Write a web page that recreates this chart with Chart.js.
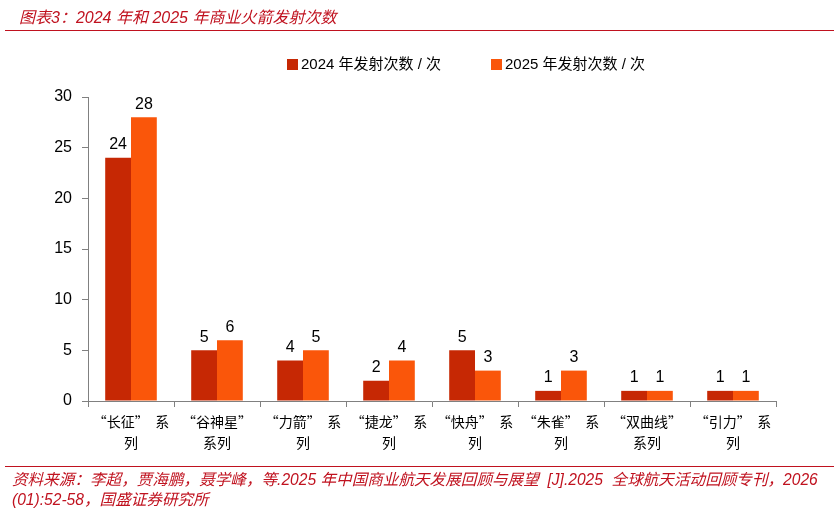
<!DOCTYPE html>
<html>
<head>
<meta charset="utf-8">
<script src="https://cdn.jsdelivr.net/npm/chart.js@4.4.0/dist/chart.umd.min.js"></script>
<style>
  html, body { margin: 0; padding: 0; background: #fff; }
  #wrap { position: relative; width: 839px; height: 515px; overflow: hidden; }
  #chart { position: absolute; left: 0; top: 0; }
  .red { color: #c0121f; font-family: "Liberation Sans", "Noto Sans CJK SC", sans-serif; font-style: italic; }
  #title { position: absolute; left: 19px; top: 4px; font-size: 16px; }
  #topline { position: absolute; left: 5px; top: 30px; width: 829px; height: 1px; background: #c0121f; }
  #botline { position: absolute; left: 5px; top: 466px; width: 829px; height: 1px; background: #c0121f; }
  #source { position: absolute; left: 12px; top: 470px; width: 830px; font-size: 15.6px; line-height: 20px; white-space: nowrap; }
  #legend { position: absolute; top: 52px; left: 287px; font: 15px "Liberation Sans", "Noto Sans CJK SC", sans-serif; color: #000; }
  #legend span.item { position: absolute; white-space: nowrap; }
  #legend i { display: inline-block; width: 11px; height: 11px; margin-right: 3px; vertical-align: -1px; }
</style>
</head>
<body>
<div id="wrap">
  <canvas id="chart" width="839" height="515"></canvas>
  <div id="title" class="red">图表3：2024 年和 2025 年商业火箭发射次数</div>
  <div id="topline"></div>
  <div id="legend"></div>
  <div id="botline"></div>
  <div id="source" class="red">资料来源：李超，贾海鹏，聂学峰，等.2025 年中国商业航天发展回顾与展望&nbsp; [J].2025&nbsp; 全球航天活动回顾专刊，2026<br>(01):52-58，国盛证券研究所</div>
</div>
<script>
// 数据
const categories = [
  ['“长征”  系', '列'],
  ['“谷神星”', '系列'],
  ['“力箭”  系', '列'],
  ['“捷龙”  系', '列'],
  ['“快舟”  系', '列'],
  ['“朱雀”  系', '列'],
  ['“双曲线”', '系列'],
  ['“引力”  系', '列']
];
const seriesNames = ['2024 年发射次数 / 次', '2025 年发射次数 / 次'];
const launches2024 = [24, 5, 4, 2, 5, 1, 1, 1];
const launches2025 = [28, 6, 5, 4, 3, 3, 1, 1];
const yTicks = [0, 5, 10, 15, 20, 25, 30];

const colors = ['#c62804', '#fa560a'];

// 图例
const legendEl = document.getElementById('legend');
const legendX = [0, 204];
seriesNames.forEach((name, i) => {
  const s = document.createElement('span');
  s.className = 'item';
  s.style.left = legendX[i] + 'px';
  s.innerHTML = '<i style="background:' + colors[i] + '"></i>' + name;
  legendEl.appendChild(s);
});

// 柱顶数值
const valueLabels = {
  id: 'valueLabels',
  afterDatasetsDraw(chart) {
    const ctx = chart.ctx;
    ctx.save();
    ctx.font = '16px "Liberation Sans", sans-serif';
    ctx.fillStyle = '#000';
    ctx.textAlign = 'center';
    ctx.textBaseline = 'bottom';
    chart.data.datasets.forEach((ds, di) => {
      chart.getDatasetMeta(di).data.forEach((bar, i) => {
        ctx.fillText(ds.data[i], bar.x, bar.y - 5);
      });
    });
    ctx.restore();
  }
};

new Chart(document.getElementById('chart'), {
  type: 'bar',
  data: {
    labels: categories,
    datasets: [
      { label: seriesNames[0], data: launches2024, backgroundColor: colors[0] },
      { label: seriesNames[1], data: launches2025, backgroundColor: colors[1] }
    ]
  },
  options: {
    responsive: false,
    animation: false,
    layout: { padding: { left: 0, right: 63, top: 97, bottom: 59 } },
    datasets: { bar: { categoryPercentage: 0.6, barPercentage: 1.0 } },
    plugins: { legend: { display: false }, tooltip: { enabled: false } },
    scales: {
      x: {
        afterFit: (s) => { s.height = 55; },
        grid: { display: true, drawOnChartArea: false, drawTicks: true, tickLength: 6, color: '#808080', offset: true },
        border: { display: true, color: '#808080', width: 1 },
        ticks: {
          color: '#000',
          font: { family: '"Noto Sans CJK SC", sans-serif', size: 14, lineHeight: 1.45 },
          maxRotation: 0,
          autoSkip: false,
          padding: 5
        }
      },
      y: {
        min: 0,
        max: 30,
        afterFit: (s) => { s.width = 88; },
        afterBuildTicks: (s) => { s.ticks = yTicks.map(v => ({ value: v })); },
        grid: { display: true, drawOnChartArea: false, drawTicks: true, tickLength: 6, color: '#808080' },
        border: { display: true, color: '#808080', width: 1 },
        ticks: {
          color: '#000',
          font: { family: '"Liberation Sans", sans-serif', size: 16 },
          padding: 10
        }
      }
    }
  },
  plugins: [valueLabels]
});
</script>
</body>
</html>
